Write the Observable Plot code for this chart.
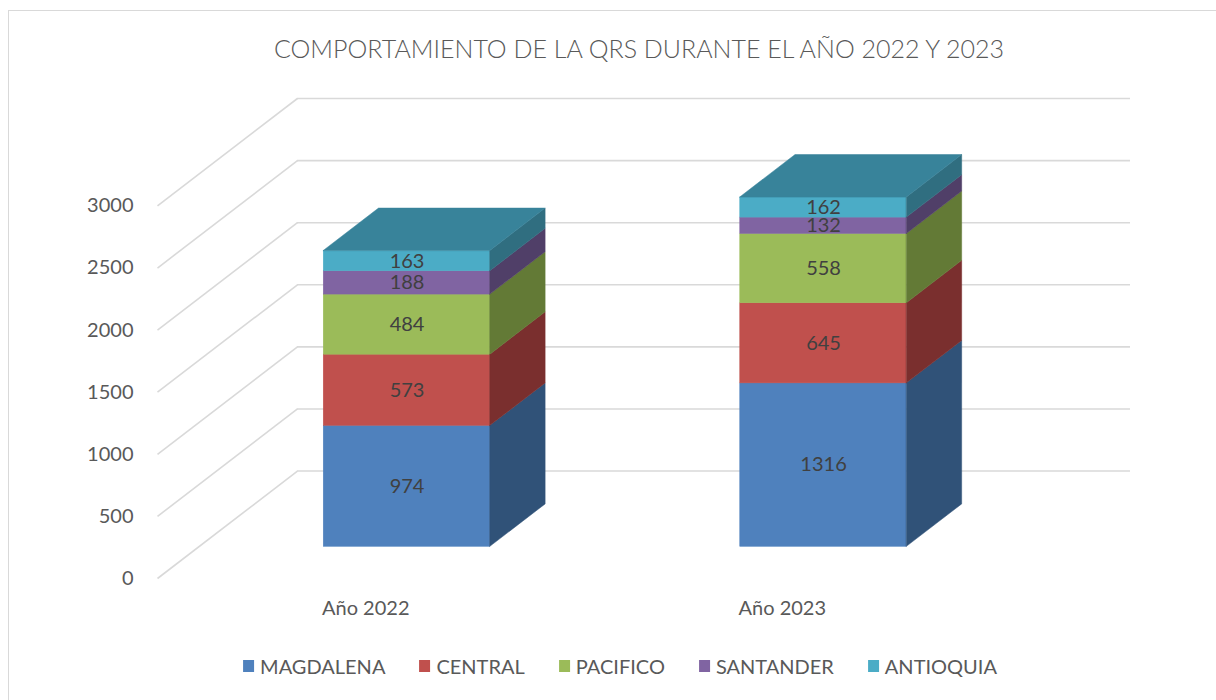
<!DOCTYPE html>
<html>
<head>
<meta charset="utf-8">
<script src="https://cdn.jsdelivr.net/npm/d3@7"></script>
<script src="https://cdn.jsdelivr.net/npm/@observablehq/plot@0.6"></script>
<style>
  html, body { margin: 0; padding: 0; background: #fff; width: 1216px; height: 700px; overflow: hidden; font-family: Lato, "Noto Sans", sans-serif; }
  #frame { position: absolute; left: 8px; top: 10px; width: 1300px; height: 800px; border: 1.5px solid #d9d9d9; box-sizing: border-box; }
  #title { position: absolute; top: 33px; left: 639px; transform: translateX(-50%); white-space: nowrap; font-size: 25px; font-weight: 300; color: #595959; }
  #chart { position: absolute; left: 0; top: 80px; }
  #legend { position: absolute; top: 654px; left: 620px; transform: translateX(-50%); display: flex; gap: 34px; white-space: nowrap; font-size: 20px; color: #595959; }
  #legend .item { display: flex; align-items: center; gap: 6px; }
  #legend .sw { width: 11px; height: 12px; display: inline-block; }
</style>
</head>
<body>
<div id="frame"></div>
<div id="title"></div>
<div id="chart"></div>
<div id="legend"></div>
<script>
// ---- data ----
const titleText = "COMPORTAMIENTO DE LA QRS DURANTE EL AÑO 2022 Y 2023";
const categories = ["Año 2022", "Año 2023"];
const seriesNames = ["MAGDALENA", "CENTRAL", "PACIFICO", "SANTANDER", "ANTIOQUIA"];
const magdalena = [974, 1316];
const central = [573, 645];
const pacifico = [484, 558];
const santander = [188, 132];
const antioquia = [163, 162];
const yTicks = [0, 500, 1000, 1500, 2000, 2500, 3000];

// ---- styles ----
const frontColors = ["#4F81BD", "#C0504D", "#9BBB59", "#8064A2", "#4BACC6"];
const sideColors = ["#305278", "#7A2F2E", "#637A36", "#503F68", "#306E80"];
const topColor = "#38839A";

// ---- 3D projection helpers (data units) ----
const DX = 0.336;   // depth offset in category units
const DY = 865;     // depth offset in value units
const zF = 0.295, zB = 0.69; // bar front/back depth fractions
const barPad = 0.3, barW = 0.4;

const seriesValues = [magdalena, central, pacifico, santander, antioquia];
const fronts = [], sides = [], tops = [], labels = [];
categories.forEach((cat, i) => {
  let base = 0;
  const xl = i + barPad, xr = i + barPad + barW;
  seriesValues.forEach((vals, s) => {
    const v = vals[i];
    const y0 = base, y1 = base + v;
    fronts.push({x1: xl + zF * DX, x2: xr + zF * DX, y1: y0 + zF * DY, y2: y1 + zF * DY, fill: frontColors[s]});
    const id = `${i}-${s}`;
    sides.push({id, x: xr + zF * DX, y1: y0 + zF * DY, y2: y1 + zF * DY, fill: sideColors[s]});
    sides.push({id, x: xr + zB * DX, y1: y0 + zB * DY, y2: y1 + zB * DY, fill: sideColors[s]});
    labels.push({x: (xl + xr) / 2 + zF * DX, y: (y0 + y1) / 2 + zF * DY, text: String(v)});
    base = y1;
  });
  tops.push({id: i, y: base + zF * DY, x1: xl + zF * DX, x2: xr + zF * DX});
  tops.push({id: i, y: base + zB * DY, x1: xl + zB * DX, x2: xr + zB * DX});
});
const catLabels = categories.map((c, i) => ({x: i + 0.5, text: c}));

const chart = Plot.plot({
  width: 1216,
  height: 550,
  marginLeft: 157,
  marginRight: 86,
  marginTop: 18,
  marginBottom: 52,
  style: {fontFamily: "Lato, 'Noto Sans', sans-serif", color: "#595959", background: "transparent"},
  x: {domain: [0, categories.length + DX], axis: null},
  y: {domain: [0, 3000 + DY]},
  color: {type: "identity"},
  marks: [
    Plot.ruleY(yTicks, {y: d => d + DY, x1: () => DX, x2: () => categories.length + DX, stroke: "#d9d9d9", strokeWidth: 1.6}),
    Plot.link(yTicks, {x1: () => 0, y1: d => d, x2: () => DX, y2: d => d + DY, stroke: "#d9d9d9", strokeWidth: 1.6}),
    Plot.axisY(yTicks, {anchor: "left", tickSize: 0, tickPadding: 24, fontSize: 20, label: null, fill: "#595959", tickFormat: d => String(d)}),
    Plot.rect(fronts, {x1: "x1", x2: "x2", y1: "y1", y2: "y2", fill: "fill", stroke: "fill", strokeWidth: 0.5}),
    Plot.areaY(sides, {x: "x", y1: "y1", y2: "y2", z: "id", fill: "fill", stroke: "fill", strokeWidth: 0.5}),
    Plot.areaX(tops, {y: "y", x1: "x1", x2: "x2", z: "id", fill: topColor, stroke: topColor, strokeWidth: 0.5}),
    Plot.text(labels, {x: "x", y: "y", text: "text", fontSize: 20, fill: "#404040"}),
    Plot.text(catLabels, {x: "x", y: () => 0, text: "text", dy: 30, fontSize: 20, fill: "#595959"})
  ]
});
document.getElementById("chart").appendChild(chart);
document.getElementById("title").textContent = titleText;

const legend = document.getElementById("legend");
seriesNames.forEach((name, s) => {
  const item = document.createElement("div");
  item.className = "item";
  const sw = document.createElement("span");
  sw.className = "sw";
  sw.style.background = frontColors[s];
  const t = document.createElement("span");
  t.textContent = name;
  item.appendChild(sw);
  item.appendChild(t);
  legend.appendChild(item);
});
</script>
</body>
</html>
